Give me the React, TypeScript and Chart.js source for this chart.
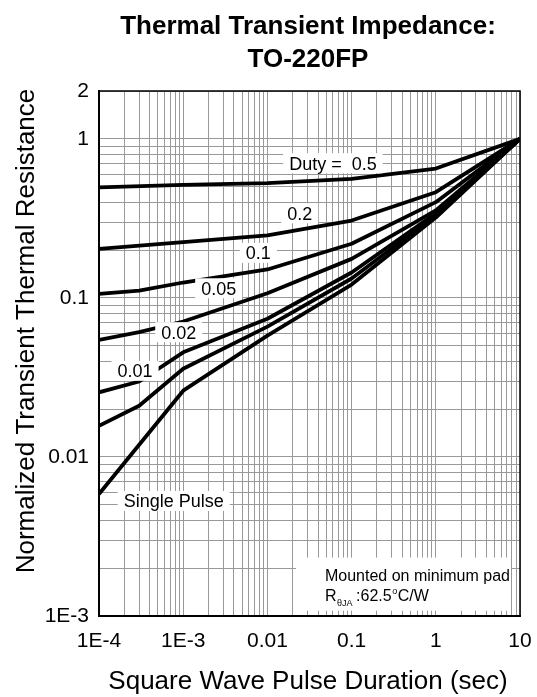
import React, { useEffect, useRef } from 'react';
import { Chart, registerables } from 'chart.js';

Chart.register(...registerables);

// ---- data ----
const durations = [1e-4, 3e-4, 1e-3, 0.01, 0.1, 1, 10];
const duty05 = [0.496, null, 0.514, 0.527, 0.56, 0.651, 1];
const duty02 = [0.2035, null, 0.224, 0.247, 0.3065, 0.462, 1];
const duty01 = [0.106, 0.111, 0.125, 0.151, 0.219, 0.4, 1];
const duty005 = [0.0545, 0.0609, 0.0711, 0.107, 0.176, 0.355, 1];
const duty002 = [0.0255, 0.0298, 0.0455, 0.074, 0.1445, 0.34, 1];
const duty001 = [0.0157, 0.021, 0.0359, 0.066, 0.1325, 0.33, 1];
const singlePulse = [0.00585, null, 0.0261, 0.058, 0.1214, 0.32, 1];

const seriesNames = ['0.5', '0.2', '0.1', '0.05', '0.02', '0.01', 'Single Pulse'];
const seriesValues = [duty05, duty02, duty01, duty005, duty002, duty001, singlePulse];

const xTickValues = [1e-4, 1e-3, 0.01, 0.1, 1, 10];
const xTickLabels = ['1E-4', '1E-3', '0.01', '0.1', '1', '10'];
const yTickValues = [1e-3, 0.01, 0.1, 1, 2];
const yTickLabels = ['1E-3', '0.01', '0.1', '1', '2'];

const titleLines = ['Thermal Transient Impedance:', 'TO-220FP'];
const xTitle = 'Square Wave Pulse Duration (sec)';
const yTitle = 'Normalized Transient Thermal Resistance';

// curve labels placed in data coordinates
const curveLabelTexts = ['Duty =  0.5', '0.2', '0.1', '0.05', '0.02', '0.01', 'Single Pulse'];
const curveLabelX = [0.06, 0.0242, 0.00781, 0.00264, 0.000885, 0.000268, 0.000771];
const curveLabelY = [0.703, 0.3406, 0.192, 0.115, 0.0609, 0.0348, 0.00529];

const noteLine1 = 'Mounted on minimum pad';
const noteR = 'R';
const noteSub = 'θJA';
const noteValue = ':62.5';
const noteDeg = 'o';
const noteUnit = 'C/W';
const noteBox = { x0: 0.0219, x1: 7.82, y0: 0.00108, y1: 0.00233 };
const noteTextX = 0.0483;
const noteLineY = [0.00166, 0.00125];

const FONT = '"Liberation Sans", Arial, Helvetica, sans-serif';

function gridValues(fromExp: number, toExp: number, extra: number[]): number[] {
  const out: number[] = [];
  for (let e = fromExp; e < toExp; e++) {
    for (let m = 1; m <= 9; m++) out.push(parseFloat((m * Math.pow(10, e)).toPrecision(6)));
  }
  return out.concat(extra);
}
const xGrid = gridValues(-4, 1, [10]);
const yGrid = gridValues(-3, 0, [1, 2]);

function labelFor(v: number, vals: number[], labels: string[]): string {
  for (let i = 0; i < vals.length; i++) {
    if (Math.abs(Math.log10(v) - Math.log10(vals[i])) < 1e-6) return labels[i];
  }
  return '';
}

const overlayPlugin = {
  id: 'overlay',
  afterDatasetsDraw(chart: any) {
    const { ctx, chartArea: ca, scales } = chart;
    const xs = scales.x;
    const ys = scales.y;
    ctx.save();
    // curve labels with white boxes
    ctx.font = `18px ${FONT}`;
    ctx.textAlign = 'center';
    ctx.textBaseline = 'alphabetic';
    for (let i = 0; i < curveLabelTexts.length; i++) {
      const t = curveLabelTexts[i];
      const px = xs.getPixelForValue(curveLabelX[i]);
      const py = ys.getPixelForValue(curveLabelY[i]);
      const w = ctx.measureText(t).width;
      ctx.fillStyle = '#fff';
      ctx.fillRect(px - w / 2 - 6, py - 10, w + 12, 20);
      ctx.fillStyle = '#000';
      ctx.fillText(t, px, py + 6.5);
    }
    // note box
    const bx0 = xs.getPixelForValue(noteBox.x0);
    const bx1 = xs.getPixelForValue(noteBox.x1);
    const by0 = ys.getPixelForValue(noteBox.y1);
    const by1 = ys.getPixelForValue(noteBox.y0);
    ctx.fillStyle = '#fff';
    ctx.fillRect(bx0, by0, bx1 - bx0, by1 - by0);
    ctx.fillStyle = '#000';
    ctx.textAlign = 'left';
    const tx = xs.getPixelForValue(noteTextX);
    const l1 = ys.getPixelForValue(noteLineY[0]);
    const l2 = ys.getPixelForValue(noteLineY[1]);
    ctx.font = `16px ${FONT}`;
    ctx.fillText(noteLine1, tx, l1);
    let cx = tx;
    ctx.fillText(noteR, cx, l2);
    cx += ctx.measureText(noteR).width + 0.5;
    ctx.font = `9px ${FONT}`;
    ctx.fillText(noteSub, cx, l2 + 5);
    cx += ctx.measureText(noteSub).width + 3.5;
    ctx.font = `16px ${FONT}`;
    ctx.fillText(noteValue, cx, l2);
    cx += ctx.measureText(noteValue).width + 0.5;
    ctx.font = `9px ${FONT}`;
    ctx.fillText(noteDeg, cx, l2 - 7);
    cx += ctx.measureText(noteDeg).width + 0.5;
    ctx.font = `16px ${FONT}`;
    ctx.fillText(noteUnit, cx, l2);
    // plot frame
    ctx.strokeStyle = '#000';
    ctx.lineWidth = 1.5;
    ctx.strokeRect(ca.left, ca.top, ca.right - ca.left, ca.bottom - ca.top);
    ctx.restore();
  },
  afterDraw(chart: any) {
    const { ctx, chartArea: ca } = chart;
    const cxm = (ca.left + ca.right) / 2 - 1.5;
    ctx.save();
    ctx.fillStyle = '#000';
    ctx.textAlign = 'center';
    ctx.textBaseline = 'alphabetic';
    ctx.font = `bold 26px ${FONT}`;
    ctx.fillText(titleLines[0], cxm, 34);
    ctx.fillText(titleLines[1], cxm, 67);
    ctx.font = `26px ${FONT}`;
    ctx.fillText(xTitle, cxm, 689);
    ctx.translate(34, 331);
    ctx.rotate(-Math.PI / 2);
    ctx.fillText(yTitle, 0, 0);
    ctx.restore();
  },
};

export default function App() {
  const ref = useRef<HTMLCanvasElement | null>(null);
  useEffect(() => {
    if (!ref.current) return;
    const datasets = seriesValues.map((vals, i) => ({
      label: seriesNames[i],
      data: durations
        .map((x, j) => ({ x, y: vals[j] }))
        .filter((p) => p.y !== null) as { x: number; y: number }[],
      borderColor: '#000',
      backgroundColor: '#000',
      borderWidth: 3.8,
      pointRadius: 0,
      tension: 0,
      fill: false,
      borderJoinStyle: 'round' as const,
    }));
    const chart = new Chart(ref.current, {
      type: 'line',
      data: { datasets },
      options: {
        animation: false,
        responsive: false,
        devicePixelRatio: 1,
        layout: { padding: { top: 91, right: 17, left: 0, bottom: 0 } },
        plugins: {
          legend: { display: false },
          title: { display: false },
          tooltip: { enabled: false },
        },
        scales: {
          x: {
            type: 'logarithmic',
            position: 'bottom',
            min: 1e-4,
            max: 10,
            afterBuildTicks: (s: any) => {
              s.ticks = xGrid.map((v) => ({ value: v }));
            },
            afterFit: (s: any) => {
              s.height = 81;
              s.paddingLeft = 0;
              s.paddingRight = 0;
            },
            grid: { color: '#999999', lineWidth: 1, drawTicks: false },
            border: { display: true, color: '#000', width: 2 },
            ticks: {
              autoSkip: false,
              maxRotation: 0,
              minRotation: 0,
              padding: 13,
              color: '#000',
              font: { family: FONT, size: 21 },
              callback: (v: any) => labelFor(Number(v), xTickValues, xTickLabels),
            },
          },
          y: {
            type: 'logarithmic',
            position: 'left',
            min: 1e-3,
            max: 2,
            afterBuildTicks: (s: any) => {
              s.ticks = yGrid.map((v) => ({ value: v }));
            },
            afterFit: (s: any) => {
              s.width = 99;
              s.paddingTop = 0;
              s.paddingBottom = 0;
            },
            grid: { color: '#999999', lineWidth: 1, drawTicks: false },
            border: { display: true, color: '#000', width: 2 },
            ticks: {
              autoSkip: false,
              padding: 10,
              color: '#000',
              font: { family: FONT, size: 21 },
              callback: (v: any) => labelFor(Number(v), yTickValues, yTickLabels),
            },
          },
        },
      } as any,
      plugins: [overlayPlugin],
    });
    return () => chart.destroy();
  }, []);
  return (
    <div style={{ position: 'absolute', left: 0, top: 0, width: 537, height: 697, background: '#fff' }}>
      <canvas ref={ref} width={537} height={697} style={{ display: 'block', width: 537, height: 697 }} />
    </div>
  );
}
